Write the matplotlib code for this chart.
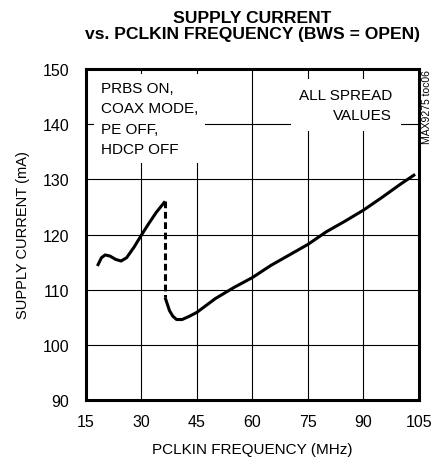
import matplotlib.pyplot as plt

plt.rcParams['font.family'] = ['Liberation Sans', 'DejaVu Sans']

# low-frequency branch
freq_a = [18.1, 19.2, 20.2, 21.5, 23.0, 24.5, 26.0, 28.0, 30.0, 32.0, 34.0, 36.4]
curr_a = [114.3, 115.8, 116.3, 116.1, 115.5, 115.2, 115.8, 117.7, 119.9, 122.0, 124.0, 126.0]

# switch-over (dashed)
freq_jump = [36.4, 36.4]
curr_jump = [126.0, 108.6]

# high-frequency branch
freq_b = [36.4, 37.0, 37.6, 38.5, 39.5, 41.0, 43.0, 45.0, 50.0, 55.0, 60.0, 65.0,
          70.0, 75.0, 80.0, 85.0, 90.0, 95.0, 100.0, 104.0]
curr_b = [108.6, 107.4, 106.2, 105.2, 104.6, 104.6, 105.2, 105.9, 108.4, 110.4, 112.2, 114.4,
          116.3, 118.2, 120.5, 122.4, 124.4, 126.7, 129.1, 130.9]

xticks = [15, 30, 45, 60, 75, 90, 105]
yticks = [90, 100, 110, 120, 130, 140, 150]

fig = plt.figure(figsize=(4.34, 4.6), dpi=100)
ax = fig.add_axes([0.198, 0.128, 0.767, 0.72])

ax.plot(freq_a, curr_a, color='black', lw=2.2, solid_capstyle='butt', zorder=3)
ax.plot(freq_jump, curr_jump, color='black', lw=2.2, ls=(0, (2.2, 1.2)), zorder=3)
ax.plot(freq_b, curr_b, color='black', lw=2.2, solid_capstyle='butt', zorder=3)

ax.set_xlim(15, 105)
ax.set_ylim(90, 150)
ax.set_xticks(xticks)
ax.set_yticks(yticks)
ax.tick_params(length=0, labelsize=11.5)
ax.tick_params(axis='x', pad=10)
ax.tick_params(axis='y', pad=12)
ax.grid(True, color='black', lw=0.8)
ax.set_axisbelow(True)
for s in ax.spines.values():
    s.set_linewidth(2.2)

ax.set_xlabel('PCLKIN FREQUENCY (MHz)', fontsize=11, labelpad=9)
ax.set_ylabel('SUPPLY CURRENT (mA)', fontsize=10.5, labelpad=9)
ax.set_title('SUPPLY CURRENT\nvs. PCLKIN FREQUENCY (BWS = OPEN)', fontsize=12.6,
             fontweight='bold', pad=22, linespacing=1.1)

ax.text(19.05, 147.9, 'PRBS ON,\nCOAX MODE,\nPE OFF,\nHDCP OFF', fontsize=11,
        ha='left', va='top', linespacing=1.6, zorder=2,
        bbox=dict(facecolor='white', edgecolor='none', pad=5))
ax.text(97.8, 146.6, 'ALL SPREAD\nVALUES', fontsize=11, ha='right', va='top',
        multialignment='right', linespacing=1.6, zorder=2,
        bbox=dict(facecolor='white', edgecolor='none', pad=6))

fig.text(0.984, 0.848, 'MAX9275 toc06', rotation=90, fontsize=7.5, ha='center', va='top')

fig.savefig('out.png', dpi=100)
